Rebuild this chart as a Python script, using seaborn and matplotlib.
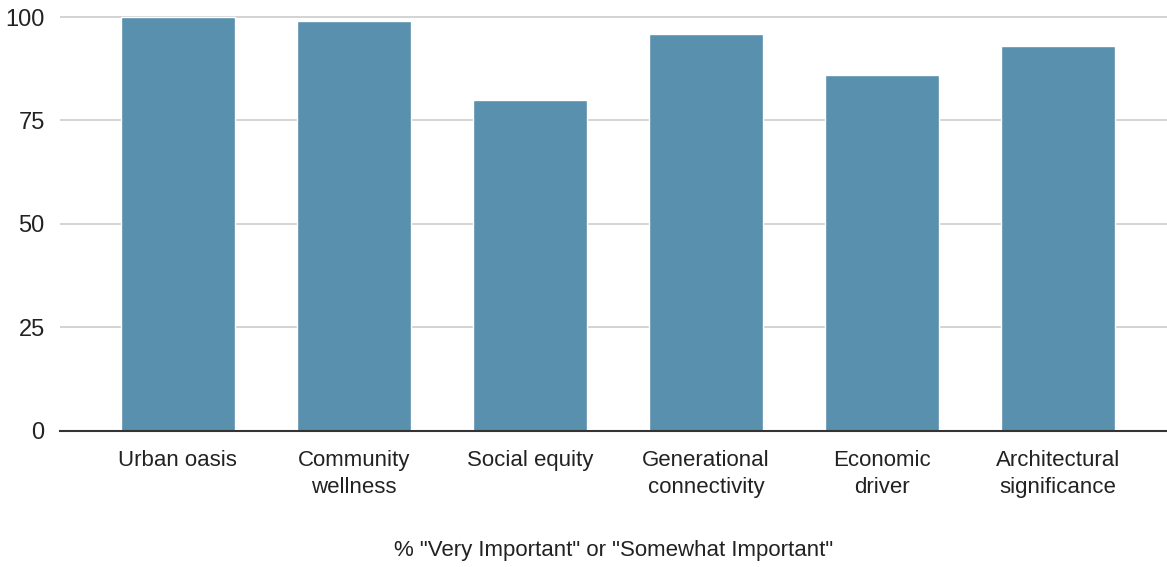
import matplotlib
matplotlib.use("Agg")
import matplotlib.pyplot as plt
import seaborn as sns
import pandas as pd

categories = ["Urban oasis", "Community\nwellness", "Social equity",
              "Generational\nconnectivity", "Economic\ndriver", "Architectural\nsignificance"]
values = [100, 99, 80, 96, 86, 93]
yticks = [0, 25, 50, 75, 100]
xlabel = '% "Very Important" or "Somewhat Important"'

sns.set_theme(style="white")
plt.rcParams['font.family'] = ['Liberation Sans', 'DejaVu Sans']

df = pd.DataFrame({"cat": categories, "val": values})

fig = plt.figure(figsize=(11.67, 5.67), dpi=100)
ax = fig.add_axes([60/1167, 1 - 430.5/567, 1 - 60/1167, (430.5 - 15)/567])
sns.barplot(data=df, x="cat", y="val", color="#5890AD", saturation=1, width=0.65, ax=ax)

ax.set_ylim(0, 100.5)
ax.set_xlim(-0.67, 5.62)
ax.set_yticks(yticks)
ax.set_yticklabels([str(t) for t in yticks], fontsize=17, color="#222222")
ax.tick_params(axis="x", labelsize=16, colors="#222222", length=0, pad=14)
ax.tick_params(axis="y", length=0, pad=11)
for lbl in ax.get_xticklabels():
    lbl.set_linespacing(1.38)
ax.yaxis.grid(True, color="#cccccc", linewidth=1.2)
ax.set_axisbelow(True)
for s in ["top", "right", "left"]:
    ax.spines[s].set_visible(False)
ax.spines["bottom"].set_color("#333333")
ax.spines["bottom"].set_linewidth(1.5)
ax.set_ylabel("")
ax.set_xlabel(xlabel, fontsize=16, color="#222222", labelpad=30)

fig.savefig("out.png", dpi=100)
